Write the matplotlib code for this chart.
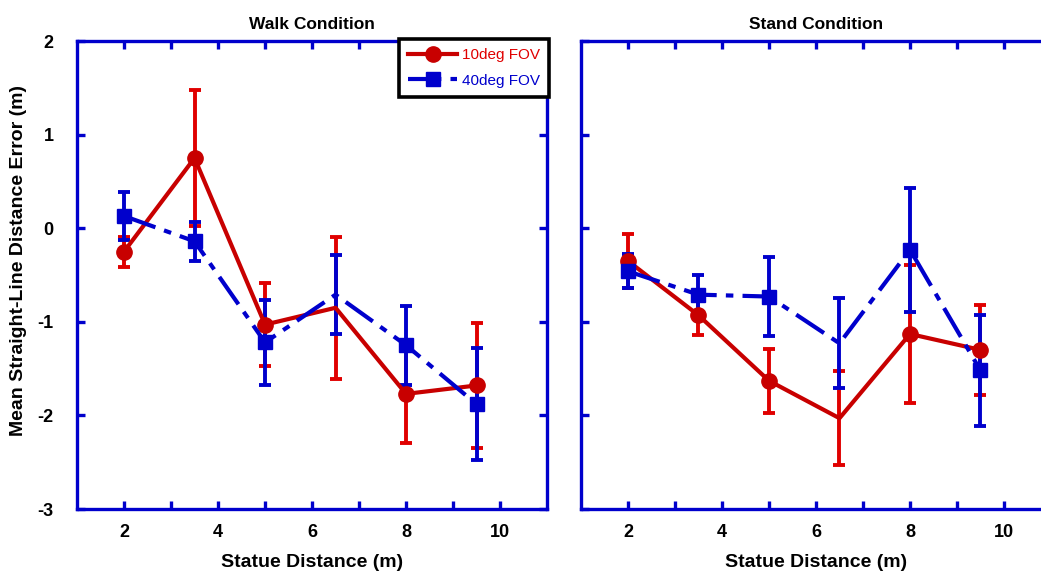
import numpy as np
from matplotlib import pyplot as plt

plt.rcParams['font.family'] = ['Liberation Sans', 'DejaVu Sans']
plt.rcParams['axes.unicode_minus'] = False

distance = [2, 3.5, 5, 6.5, 8, 9.5]

walk_10 = [-0.25, 0.75, -1.03, -0.85, -1.77, -1.68]
walk_10_err = [0.16, 0.73, 0.44, 0.76, 0.53, 0.67]
walk_40 = [0.13, -0.14, -1.22, -0.71, -1.25, -1.88]
walk_40_err = [0.26, 0.21, 0.45, 0.42, 0.42, 0.60]

stand_10 = [-0.35, -0.93, -1.63, -2.03, -1.13, -1.30]
stand_10_err = [0.29, 0.21, 0.34, 0.50, 0.74, 0.48]
stand_40 = [-0.46, -0.71, -0.73, -1.23, -0.23, -1.52]
stand_40_err = [0.18, 0.21, 0.42, 0.48, 0.66, 0.59]

RED_LINE = "#c80000"
RED_BAR = "#e00000"
BLUE = "#0000cc"
DASH = (0, (8, 2.2, 1.8, 2.2))
SHOWN = [0, 1, 2, 4, 5]   # no marker drawn at 6.5 m in the original


def draw_panel(ax, y10, e10, y40, e40, title):
    ax.errorbar(distance, y10, yerr=e10, fmt="none", ecolor=RED_BAR,
                elinewidth=2.8, capsize=4.3, capthick=2.8, zorder=1)
    ax.errorbar(distance, y40, yerr=e40, fmt="none", ecolor=BLUE,
                elinewidth=2.8, capsize=4.3, capthick=2.8, zorder=2)
    ax.plot(distance, y10, color=RED_LINE, lw=3, marker="o", ms=11,
            markevery=SHOWN, label="10deg FOV", zorder=3)
    ax.plot(distance, y40, color=BLUE, lw=3, ls=DASH, marker="s", ms=10.5,
            markevery=SHOWN, label="40deg FOV", zorder=4)

    ax.set_xlim(1, 11)
    ax.set_ylim(-3, 2)
    ax.set_xticks([2, 4, 6, 8, 10])
    ax.set_xticks(np.arange(2, 11, 1), minor=True)
    ax.set_yticks(np.arange(-3, 3, 1))
    ax.tick_params(which="both", direction="in", color=BLUE, width=2.4,
                   length=6, top=True, right=True, labelsize=13)
    ax.tick_params(axis="x", pad=11)
    ax.tick_params(axis="y", pad=17)
    for lbl in ax.get_xticklabels() + ax.get_yticklabels():
        lbl.set_fontweight("bold")
    for sp in ax.spines.values():
        sp.set_color(BLUE)
        sp.set_linewidth(2.4)
    ax.set_title(title, fontsize=12.5, fontweight="bold", pad=9)
    ax.set_xlabel("Statue Distance (m)", fontsize=14, fontweight="bold",
                  labelpad=9)


fig = plt.figure(figsize=(10.41, 5.76), dpi=100)
ax_walk = fig.add_axes([0.074, 0.1163, 0.4515, 0.8125])
ax_stand = fig.add_axes([0.5581, 0.1163, 0.4515, 0.8125])

draw_panel(ax_walk, walk_10, walk_10_err, walk_40, walk_40_err, "Walk Condition")
draw_panel(ax_stand, stand_10, stand_10_err, stand_40, stand_40_err, "Stand Condition")

ax_stand.tick_params(axis="y", labelleft=False)
ax_walk.set_ylabel("Mean Straight-Line Distance Error (m)", fontsize=14,
                   fontweight="bold")
ax_walk.yaxis.set_label_coords(-0.106, 0.532)

leg = ax_walk.legend(loc="upper right", bbox_to_anchor=(1.004, 1.004),
                     borderaxespad=0, fancybox=False, framealpha=1,
                     edgecolor="black", fontsize=11, handlelength=3.2,
                     handletextpad=0.3, borderpad=0.6, labelspacing=0.75)
leg.get_frame().set_linewidth(2.6)
leg.set_zorder(10)
for txt, col in zip(leg.get_texts(), [RED_BAR, BLUE]):
    txt.set_color(col)

fig.savefig("out.png", dpi=100)
